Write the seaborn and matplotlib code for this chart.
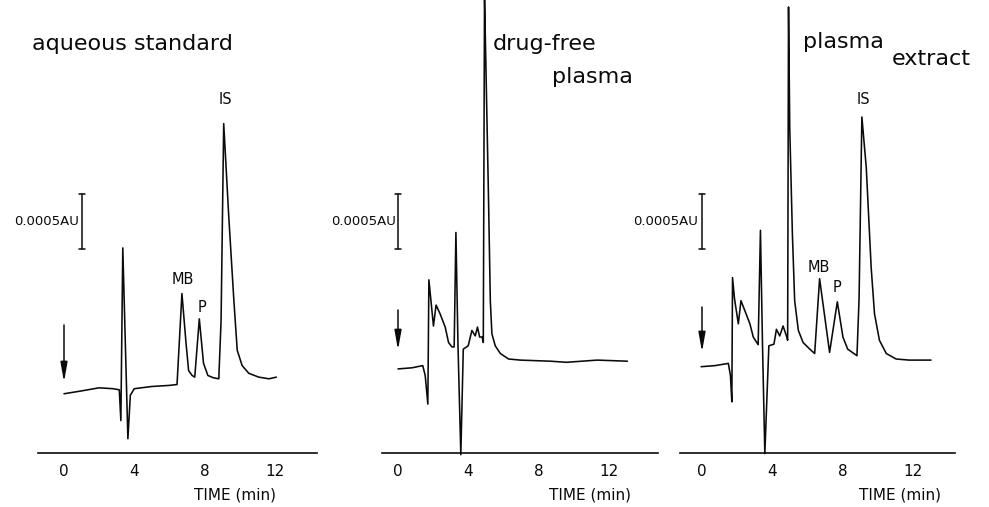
import numpy as np
import pandas as pd
import matplotlib
matplotlib.use("Agg")
import matplotlib.pyplot as plt
import seaborn as sns

# ---------------- data (time in min, absorbance in 1e-4 AU) ----------------
aq_time = [0.0, 1.0, 2.0, 2.8, 3.15, 3.24, 3.35, 3.64, 3.78, 4.0, 5.0, 6.0, 6.44,
           6.72, 6.95, 7.1, 7.3, 7.45, 7.71, 7.95, 8.2, 8.5, 8.82, 8.95, 9.1,
           9.39, 9.68, 9.87, 10.15, 10.53, 11.1, 11.68, 12.1]
aq_abs = [5.34, 5.6, 5.88, 5.8, 5.7, 2.9, 18.6, 1.25, 5.2, 5.8, 6.0, 6.1, 6.18,
          14.45, 10.0, 7.45, 7.0, 6.85, 12.15, 8.1, 7.0, 6.8, 6.7, 12.0, 29.9,
          21.4, 13.8, 9.3, 7.9, 7.2, 6.85, 6.7, 6.85]

df_time = [0.0, 0.8, 1.41, 1.55, 1.70, 1.76, 2.02, 2.17, 2.4, 2.69, 2.88, 3.07,
           3.2, 3.3, 3.42, 3.58, 3.72, 4.0, 4.21, 4.4, 4.53, 4.65, 4.79, 4.86,
           4.93, 5.16, 5.26, 5.35, 5.54, 5.83, 6.3, 6.97, 8.69, 9.6, 11.35, 13.07]
df_abs = [7.6, 7.7, 7.9, 7.0, 4.4, 15.7, 11.5, 13.4, 12.6, 11.4, 10.0, 9.6,
          9.6, 20.0, 9.6, -0.2, 9.4, 9.7, 11.1, 10.6, 11.4, 10.5, 10.5, 10.0,
          41.5, 22.9, 13.8, 10.8, 9.7, 9.0, 8.5, 8.4, 8.3, 8.2, 8.4, 8.3]

px_time = [-0.05, 0.75, 1.5, 1.62, 1.70, 1.74, 1.85, 2.07, 2.22, 2.44, 2.73, 2.92,
           3.2, 3.33, 3.45, 3.58, 3.81, 4.1, 4.24, 4.43, 4.62, 4.81, 4.88, 4.93,
           5.0, 5.15, 5.28, 5.49, 5.76, 6.14, 6.42, 6.7, 7.27, 7.71, 8.03, 8.3,
           8.83, 8.95, 9.11, 9.36, 9.64, 9.83, 10.11, 10.5, 11.06, 11.8, 13.05]
px_abs = [7.8, 7.9, 8.1, 7.0, 4.6, 15.9, 14.0, 11.7, 13.8, 12.9, 11.7, 10.5,
          9.8, 20.2, 9.6, -0.1, 9.7, 9.85, 11.2, 10.6, 11.5, 10.6, 10.2, 40.5,
          29.5, 19.9, 13.8, 11.1, 10.0, 9.4, 9.0, 15.8, 9.1, 13.7, 10.5, 9.4,
          8.8, 14.0, 30.5, 25.9, 16.8, 12.6, 10.2, 9.0, 8.5, 8.4, 8.4]

major_ticks = [0, 4, 8, 12]
minor_ticks = [2, 6, 10]
xlabel_text = "TIME (min)"
scale_text = "0.0005AU"
scale_range = [18.5, 23.5]   # 5e-4 AU scale bar

# ---------------- figure ----------------
sns.set_style("white")
plt.rcParams['font.family'] = ['DejaVu Sans']
W, H = 989, 507
fig = plt.figure(figsize=(W / 100, H / 100), dpi=100)

INK = '#0a0a0a'
PX_PER_MIN = 17.55
PX_PER_UNIT = 11.0
AXIS_Y = 452.5
BOTTOM_PX = 456

def make_ax(left_px, right_px, t0_px):
    ax = fig.add_axes([left_px / W, (H - BOTTOM_PX) / H,
                       (right_px - left_px) / W, BOTTOM_PX / H])
    ax.set_xlim((left_px - t0_px) / PX_PER_MIN, (right_px - t0_px) / PX_PER_MIN)
    ax.set_ylim(-(BOTTOM_PX - AXIS_Y) / PX_PER_UNIT, AXIS_Y / PX_PER_UNIT)
    ax.patch.set_alpha(0)
    for s in ['top', 'left', 'right']:
        ax.spines[s].set_visible(False)
    ax.spines['bottom'].set_position(('data', 0))
    ax.spines['bottom'].set_linewidth(1.2)
    ax.spines['bottom'].set_color(INK)
    ax.set_xticks(major_ticks)
    ax.set_xticklabels([str(v) for v in major_ticks])
    ax.set_xticks(minor_ticks, minor=True)
    ax.tick_params(axis='x', which='both', direction='in', length=3, width=1,
                   color=INK, labelsize=11, pad=8, labelcolor=INK)
    ax.set_yticks([])
    return ax

def ypx(p):
    return (AXIS_Y - p) / PX_PER_UNIT

panels = [
    (38, 317, 64, aq_time, aq_abs),
    (382, 658, 398, df_time, df_abs),
    (680, 955, 702, px_time, px_abs),
]
axes = []
for left, right, t0, tt, aa in panels:
    ax = make_ax(left, right, t0)
    d = pd.DataFrame({"time": tt, "abs": aa})
    sns.lineplot(data=d, x="time", y="abs", ax=ax, sort=False, estimator=None,
                 color=INK, linewidth=1.15)
    ax.set_xlabel("")
    ax.set_ylabel("")
    axes.append(ax)

def tpos(px, t0):
    return (px - t0) / PX_PER_MIN

def scale_bar(ax, t, t0, label_right_px):
    ax.plot([t, t], scale_range, color=INK, lw=1.1)
    for yv in scale_range:
        ax.plot([t - 0.17, t + 0.17], [yv, yv], color=INK, lw=1.1)
    ax.text(tpos(label_right_px, t0), sum(scale_range) / 2, scale_text,
            ha='right', va='center', fontsize=9.5, color=INK)

def arrow(ax, top, bottom):
    ax.annotate('', xy=(0, bottom), xytext=(0, top),
                arrowprops=dict(arrowstyle='-|>,head_length=0.9,head_width=0.16',
                                color=INK, lw=1.1, mutation_scale=13,
                                shrinkA=0, shrinkB=0))

title_kw = dict(fontsize=16, ha='left', va='baseline', color=INK)
peak_kw = dict(fontsize=10.5, ha='center', va='center', color=INK)
xl_kw = dict(fontsize=11, ha='center', va='top', color=INK)

# panel 1
ax = axes[0]
t0 = 64
scale_bar(ax, 1.0, t0, 79)
arrow(ax, ypx(325), ypx(382))
ax.text(tpos(32, t0), ypx(50), "aqueous standard", **title_kw)
ax.text(tpos(225, t0), ypx(100), "IS", **peak_kw)
ax.text(tpos(182.5, t0), ypx(279), "MB", **peak_kw)
ax.text(tpos(202, t0), ypx(307), "P", **peak_kw)
ax.text(tpos(235, t0), ypx(487), xlabel_text, **xl_kw)

# panel 2
ax = axes[1]
t0 = 398
scale_bar(ax, 0.0, t0, 396)
arrow(ax, ypx(310), ypx(350))
ax.text(tpos(493, t0), ypx(50), "drug-free", **title_kw)
ax.text(tpos(552, t0), ypx(83), "plasma", **title_kw)
ax.text(tpos(590, t0), ypx(487), xlabel_text, **xl_kw)

# panel 3
ax = axes[2]
t0 = 702
scale_bar(ax, 0.0, t0, 698)
arrow(ax, ypx(307), ypx(352))
ax.text(tpos(803, t0), ypx(48), "plasma", **title_kw)
ax.text(tpos(892, t0), ypx(65), "extract", **title_kw)
ax.text(tpos(863, t0), ypx(100), "IS", **peak_kw)
ax.text(tpos(818.5, t0), ypx(268), "MB", **peak_kw)
ax.text(tpos(837.5, t0), ypx(288), "P", **peak_kw)
ax.text(tpos(900, t0), ypx(487), xlabel_text, **xl_kw)

fig.savefig("out.png", dpi=100, facecolor='white')
